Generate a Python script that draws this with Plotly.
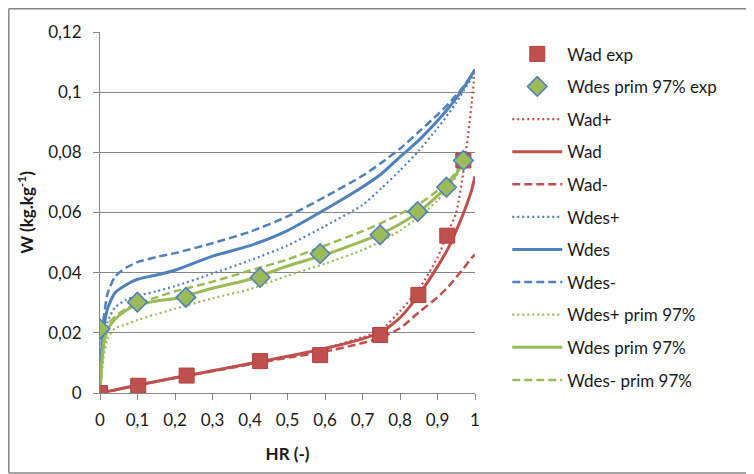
import plotly.graph_objects as go

# ---------------- data ----------------
HR = [0, 0.005, 0.01, 0.02, 0.04, 0.07, 0.1, 0.15, 0.2, 0.3, 0.4, 0.5, 0.6, 0.7,
      0.75, 0.8, 0.85, 0.9, 0.93, 0.95, 0.97, 0.99, 1.0]

wad_plus = [0, 0.0001, 0.0003, 0.0005, 0.001, 0.0018, 0.0026, 0.0038, 0.0051, 0.0074,
            0.0098, 0.0122, 0.0149, 0.0185, 0.021, 0.0272, 0.0345, 0.045, 0.054, 0.060,
            0.0745, 0.095, 0.1075]
wad = [0, 0.0001, 0.0003, 0.0005, 0.001, 0.0018, 0.0026, 0.0038, 0.0051, 0.0074,
       0.0098, 0.0122, 0.0148, 0.0180, 0.0202, 0.0250, 0.0326, 0.042, 0.0485, 0.054,
       0.060, 0.067, 0.072]
wad_minus = [0, 0.0001, 0.0003, 0.0005, 0.001, 0.0018, 0.0026, 0.0038, 0.0050, 0.0072,
             0.0095, 0.0117, 0.0138, 0.0166, 0.0185, 0.0215, 0.0268, 0.0318, 0.0355,
             0.0385, 0.0415, 0.0448, 0.046]

wdes_plus = [0, 0.010, 0.016, 0.0235, 0.0285, 0.031, 0.0323, 0.0338, 0.0355, 0.0397,
             0.0441, 0.049, 0.0555, 0.0625, 0.0680, 0.0740, 0.0805, 0.088, 0.093, 0.0965,
             0.1005, 0.1045, 0.107]
wdes = [0, 0.015, 0.0215, 0.028, 0.0333, 0.0360, 0.0378, 0.0392, 0.0408, 0.0455,
        0.0490, 0.0540, 0.0610, 0.0685, 0.0728, 0.0785, 0.0840, 0.0905, 0.0948, 0.0980,
        0.1015, 0.1055, 0.1075]
wdes_minus = [0, 0.018, 0.025, 0.033, 0.0387, 0.0417, 0.0435, 0.0452, 0.0465, 0.0498,
              0.0536, 0.0587, 0.0652, 0.0722, 0.0765, 0.0812, 0.0868, 0.0925, 0.0962,
              0.0990, 0.1020, 0.1055, 0.1075]

wdesp_plus = [0, 0.007, 0.012, 0.018, 0.0215, 0.0228, 0.0243, 0.0262, 0.0280, 0.0315,
              0.0345, 0.0390, 0.0430, 0.0475, 0.0505, 0.0540, 0.0585, 0.0640, 0.0685,
              0.0720, 0.0775, None, None]
wdesp = [0, 0.010, 0.016, 0.021, 0.0245, 0.0275, 0.0293, 0.0306, 0.0314, 0.0348,
         0.0378, 0.0422, 0.0460, 0.0505, 0.0530, 0.0562, 0.0602, 0.0655, 0.0695,
         0.0728, 0.0775, None, None]
wdesp_minus = [0, 0.012, 0.018, 0.0225, 0.0254, 0.0280, 0.0296, 0.0318, 0.0338, 0.0370,
               0.0407, 0.0444, 0.0490, 0.0538, 0.0565, 0.0595, 0.0628, 0.0672, 0.0705,
               0.0735, 0.0775, None, None]

hr_ad_exp = [0, 0.102, 0.231, 0.427, 0.587, 0.747, 0.849, 0.926, 0.969]
w_ad_exp = [0, 0.0024, 0.0058, 0.0106, 0.0126, 0.0193, 0.0326, 0.0523, 0.0773]

hr_des_exp = [0, 0.0996, 0.229, 0.427, 0.587, 0.747, 0.847, 0.924, 0.969]
w_des_exp = [0.0213, 0.0302, 0.0318, 0.0384, 0.0463, 0.0526, 0.0603, 0.0684, 0.0773]

x_ticks = [0, 0.1, 0.2, 0.3, 0.4, 0.5, 0.6, 0.7, 0.8, 0.9, 1.0]
x_ticktext = ["0", "0,1", "0,2", "0,3", "0,4", "0,5", "0,6", "0,7", "0,8", "0,9", "1"]
y_ticks = [0, 0.02, 0.04, 0.06, 0.08, 0.1, 0.12]
y_ticktext = ["0", "0,02", "0,04", "0,06", "0,08", "0,1", "0,12"]

# ---------------- style ----------------
RED = "#C0504D"
BLUE = "#4F81BD"
GREEN = "#9BBB59"
GRID = "#868686"
TXT = "#1a1a1a"
FONT = "Lato"
FS = 17
DOT = "2px,3px"
DASH = "8px,4px"

# the page body adds an 8px offset; figure is sized/placed to compensate
W, H = 746, 466
L, T = 92, 24
PW, PH = 375, 361

fig = go.Figure()

lines = [
    ("Wad+", wad_plus, RED, DOT, 2.2, 3),
    ("Wad", wad, RED, "solid", 3, 4),
    ("Wad-", wad_minus, RED, DASH, 2.5, 5),
    ("Wdes+", wdes_plus, BLUE, DOT, 2.2, 6),
    ("Wdes", wdes, BLUE, "solid", 3, 7),
    ("Wdes-", wdes_minus, BLUE, DASH, 2.5, 8),
    ("Wdes+ prim 97%", wdesp_plus, GREEN, DOT, 2.2, 9),
    ("Wdes prim 97%", wdesp, GREEN, "solid", 3, 10),
    ("Wdes- prim 97%", wdesp_minus, GREEN, DASH, 2.5, 11),
]
for name, ys, col, dash, w, rank in lines:
    fig.add_trace(go.Scatter(
        x=HR, y=ys, mode="lines", name=name,
        line=dict(color=col, width=w, dash=dash, shape="spline", smoothing=0.6),
        legendrank=rank, legendgroup=name, connectgaps=False,
    ))

fig.add_trace(go.Scatter(
    x=hr_ad_exp, y=w_ad_exp, mode="markers", name="Wad exp",
    marker=dict(symbol="square", size=15, color=RED, line=dict(color="#B0403D", width=1)),
    legendrank=1, legendgroup="Wad exp",
))
fig.add_trace(go.Scatter(
    x=hr_des_exp, y=w_des_exp, mode="markers", name="Wdes prim 97% exp",
    marker=dict(symbol="diamond", size=15, color=GREEN, line=dict(color=BLUE, width=1.6)),
    legendrank=2, legendgroup="Wdes prim 97% exp",
))

# chart-area frame: left, top and bottom edges (right edge lies outside the picture)
xl = (0.8 - L) / PW
xr = (W + 20 - L) / PW
yb = (T + PH - (H - 1)) / PH
yt = (T + PH - 0.8) / PH
frame = [
    dict(type="line", xref="paper", yref="paper", x0=xl, x1=xl, y0=yb, y1=yt),
    dict(type="line", xref="paper", yref="paper", x0=xl, x1=xr, y0=yt, y1=yt),
    dict(type="line", xref="paper", yref="paper", x0=xl, x1=xr, y0=yb, y1=yb),
]
for s in frame:
    s["line"] = dict(color=GRID, width=1.5)
    s["layer"] = "below"

fig.update_layout(
    width=W, height=H,
    margin=dict(l=L, r=W - L - PW, t=T, b=H - T - PH),
    paper_bgcolor="white", plot_bgcolor="white",
    font=dict(family=FONT, size=FS, color=TXT),
    showlegend=True,
    legend=dict(
        x=1.086, xanchor="left", xref="paper",
        y=0.988, yanchor="top", yref="paper",
        maxheight=440,
        font=dict(family=FONT, size=FS, color=TXT),
        tracegroupgap=7.5,
        itemwidth=50,
        bgcolor="rgba(0,0,0,0)",
    ),
    xaxis=dict(
        range=[0, 1], tickvals=x_ticks, ticktext=x_ticktext,
        showgrid=False, zeroline=False,
        showline=True, linecolor=GRID, linewidth=1,
        ticks="outside", ticklen=6, tickcolor=GRID,
        ticklabelstandoff=6,
        tickfont=dict(family=FONT, size=FS, color=TXT),
        title=dict(text="<b>HR (-)</b>", font=dict(family=FONT, size=FS, color=TXT),
                   standoff=18),
        fixedrange=True,
    ),
    yaxis=dict(
        range=[0, 0.12], tickvals=y_ticks, ticktext=y_ticktext,
        showgrid=True, gridcolor=GRID, gridwidth=1, zeroline=False,
        showline=True, linecolor=GRID, linewidth=1,
        ticks="outside", ticklen=6, tickcolor=GRID,
        ticklabelstandoff=8,
        tickfont=dict(family=FONT, size=FS, color=TXT),
        title=dict(text="<b>W (kg.kg<sup>-1</sup>)</b>",
                   font=dict(family=FONT, size=FS, color=TXT), standoff=10),
        fixedrange=True,
    ),
    shapes=frame,
)

fig.write_html("out.html")
